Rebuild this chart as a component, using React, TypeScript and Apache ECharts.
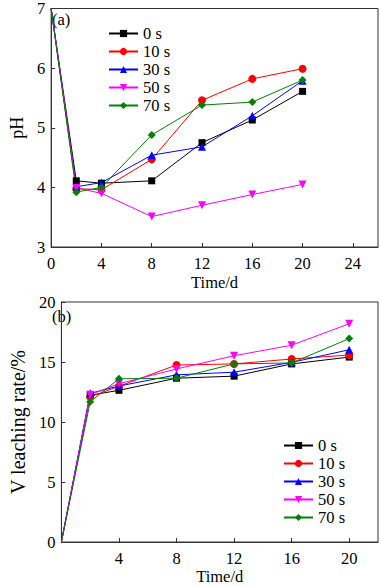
import React, { useEffect, useRef } from "react";
import * as echarts from "echarts";

const seriesNames = ["0 s", "10 s", "30 s", "50 s", "70 s"];
const colors = ["#000000", "#ff0000", "#0000ff", "#ff00ff", "#008000"];
const symbols = ["rect", "circle", "triangle", "triangle", "diamond"];
const rotates = [0, 0, 0, 180, 0];
const symbolSizes = [7, 8, 8, 8, 8];

const days = [0, 2, 4, 8, 12, 16, 20];

const phData = [
  [7, 4.11, 4.07, 4.11, 4.75, 5.13, 5.61],
  [7, 3.98, 3.96, 4.47, 5.46, 5.82, 5.99],
  [7, 4.01, 4.08, 4.54, 4.68, 5.2, 5.79],
  [7, 3.99, 3.9, 3.51, 3.7, 3.88, 4.05],
  [7, 3.92, 4.0, 4.88, 5.38, 5.43, 5.8],
];

const leachData = [
  [0, 12.23, 12.64, 13.65, 13.82, 14.84, 15.41],
  [0, 12.09, 12.98, 14.75, 14.84, 15.25, 15.58],
  [0, 12.39, 13.0, 13.93, 14.15, 14.97, 16.02],
  [0, 12.28, 13.19, 14.42, 15.52, 16.4, 18.19],
  [0, 11.68, 13.6, 13.65, 14.84, 14.92, 16.95],
];

const FONT = "'Liberation Serif', 'Times New Roman', serif";

export default function App() {
  const ref = useRef<HTMLDivElement>(null);
  useEffect(() => {
    if (!ref.current) return;
    const chart = echarts.init(ref.current, null, { renderer: "svg" });
    const axisLine = { show: true, lineStyle: { color: "#333", width: 1 } };
    const axisTick = { show: true, inside: true, length: 4, lineStyle: { color: "#333" } };
    const axisLabel = { color: "#000", fontFamily: FONT, fontSize: 16.5, fontWeight: "normal" };
    const nameStyle = { color: "#000", fontFamily: FONT, fontSize: 16.5, fontWeight: "normal" };

    const mk = (data: number[][], gi: number) =>
      seriesNames.map((n, i) => ({
        name: n,
        type: "line",
        xAxisIndex: gi,
        yAxisIndex: gi,
        data: days.map((d, j) =>
          j === 0 ? { value: [d, data[i][j]], symbol: "none" } : [d, data[i][j]]
        ),
        symbol: symbols[i],
        symbolRotate: rotates[i],
        symbolSize: symbolSizes[i],
        showAllSymbol: true,
        lineStyle: { color: colors[i], width: 1 },
        itemStyle: { color: colors[i] },
      }));

    const legendBase = {
      orient: "vertical",
      itemWidth: 29,
      itemHeight: 9,
      itemGap: 1,
      textStyle: { fontFamily: FONT, fontSize: 16.5, color: "#000", lineHeight: 16, fontWeight: "normal" },
      data: seriesNames,
    };

    chart.setOption({
      animation: false,
      backgroundColor: "#fff",
      textStyle: { fontFamily: FONT },
      grid: [
        { left: 45, top: 4, width: 333, height: 243, show: true, borderColor: "#333", borderWidth: 1 },
        { left: 45, top: 302, width: 333, height: 243, show: true, borderColor: "#333", borderWidth: 1 },
      ],
      xAxis: [
        {
          type: "value", gridIndex: 0, min: 0, max: 26, interval: 4,
          splitLine: { show: false }, axisLine, axisTick,
          axisLabel: { ...axisLabel, margin: 8, showMaxLabel: false },
          name: "Time/d", nameLocation: "middle", nameGap: 27, nameTextStyle: nameStyle,
        },
        {
          type: "value", gridIndex: 1, min: 0, max: 22, interval: 4,
          splitLine: { show: false }, axisLine, axisTick,
          axisLabel: { ...axisLabel, margin: 8, showMaxLabel: false, formatter: (v: number) => (v === 0 ? "" : String(v)) },
          name: "Time/d", nameLocation: "middle", nameGap: 26, nameTextStyle: nameStyle,
        },
      ],
      yAxis: [
        {
          type: "value", gridIndex: 0, min: 3, max: 7, interval: 1,
          splitLine: { show: false }, axisLine, axisTick, axisLabel: { ...axisLabel, margin: 6 },
          name: "pH", nameLocation: "middle", nameGap: 22, nameTextStyle: { ...nameStyle, fontSize: 18 },
        },
        {
          type: "value", gridIndex: 1, min: 0, max: 20, interval: 5,
          splitLine: { show: false }, axisLine, axisTick, axisLabel: { ...axisLabel, margin: 6 },
          name: "V leaching rate/%", nameLocation: "middle", nameGap: 22, nameTextStyle: { ...nameStyle, fontSize: 20 },
        },
      ],
      legend: [
        { ...legendBase, left: 103, top: 20 },
        { ...legendBase, left: 278, top: 432 },
      ],
      graphic: [
        { type: "text", left: 52, top: 11, style: { text: "(a)", font: "16.5px 'Liberation Serif'", fill: "#000" } },
        { type: "text", left: 52, top: 308, style: { text: "(b)", font: "16.5px 'Liberation Serif'", fill: "#000" } },
      ],
      series: [...mk(phData, 0), ...mk(leachData, 1)],
    });
    return () => chart.dispose();
  }, []);
  return (
    <div
      ref={ref}
      style={{ position: "fixed", left: 0, top: 0, width: 380, height: 586, background: "#fff" }}
    />
  );
}
